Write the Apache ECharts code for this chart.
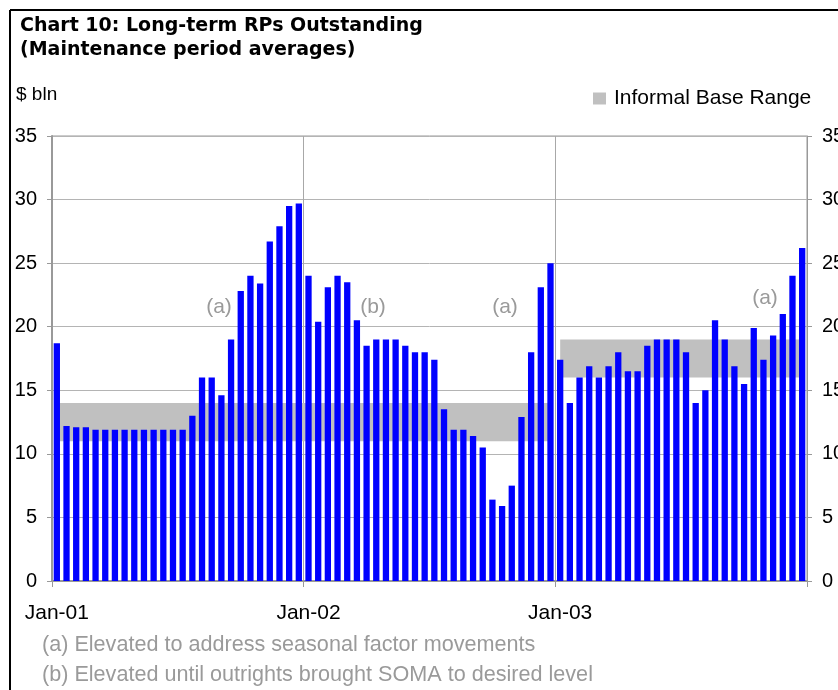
<!DOCTYPE html>
<html>
<head>
<meta charset="utf-8">
<script src="https://cdn.jsdelivr.net/npm/echarts@6/dist/echarts.min.js"></script>
<style>
  html, body { margin: 0; padding: 0; background: #fff; overflow: hidden; }
  #chart { width: 838px; height: 690px; }
</style>
</head>
<body>
<div id="chart"></div>
<script>
// Reserve maintenance periods (two weeks each), Jan 2001 - Dec 2003
const periods = [];
for (let i = 0; i < 78; i++) {
  const d = new Date(Date.UTC(2001, 0, 3 + 14 * i));
  periods.push(d.toISOString().slice(0, 10));
}

// Long-term RPs outstanding, $ bln (maintenance period averages)
const rpOutstanding = [
  18.7, 12.2, 12.1, 12.1, 11.9, 11.9, 11.9, 11.9, 11.9, 11.9, 11.9, 11.9, 11.9,
  11.9, 13.0, 16.0, 16.0, 14.6, 19.0, 22.8, 24.0, 23.4, 26.7, 27.9, 29.5, 29.7,
  24.0, 20.4, 23.1, 24.0, 23.5, 20.5, 18.5, 19.0, 19.0, 19.0, 18.5, 18.0, 18.0,
  17.4, 13.5, 11.9, 11.9, 11.4, 10.5, 6.4, 5.9, 7.5, 12.9, 18.0, 23.1, 25.0,
  17.4, 14.0, 16.0, 16.9, 16.0, 16.9, 18.0, 16.5, 16.5, 18.5, 19.0, 19.0, 19.0,
  18.0, 14.0, 15.0, 20.5, 19.0, 16.9, 15.5, 19.9, 17.4, 19.3, 21.0, 24.0, 26.2
];

// Informal base range: one segment per regime (first/last period index, low, high)
const rangeFirst = [0, 52];
const rangeLast = [51, 77];
const rangeLow = [11, 16];
const rangeHigh = [14, 19];

// Year ticks on the period axis
const yearTickIndex = [0, 26, 52];
const yearTickLabels = ['Jan-01', 'Jan-02', 'Jan-03'];

// Footnotes and annotation markers
const noteMarks = ['(a)', '(b)', '(a)', '(a)'];
const footnotes = [
  '(a) Elevated to address seasonal factor movements',
  '(b) Elevated until outrights brought SOMA to desired level'
];

const RANGE_NAME = 'Informal Base Range';
const FONT = '"Liberation Sans", Arial, sans-serif';
const GRID_GREY = '#b4b4b4';
const AXIS_GREY = '#999999';
const NOTE_GREY = '#9a9a9a';

// Stacked area pair (invisible base + visible width) for each range segment
const rangeSeries = [];
rangeFirst.forEach((first, s) => {
  const base = periods.map((_, i) => (i >= first && i <= rangeLast[s]) ? rangeLow[s] : null);
  const width = periods.map((_, i) => (i >= first && i <= rangeLast[s]) ? rangeHigh[s] - rangeLow[s] : null);
  rangeSeries.push({
    name: 'base' + s, type: 'line', stack: 'range' + s, data: base,
    symbol: 'none', silent: true, z: 1,
    lineStyle: { width: 0, opacity: 0 }, areaStyle: { opacity: 0 }
  });
  rangeSeries.push({
    name: RANGE_NAME, type: 'line', stack: 'range' + s, data: width,
    symbol: 'none', silent: true, z: 1,
    itemStyle: { color: '#c0c0c0' },
    lineStyle: { width: 0, opacity: 0 },
    areaStyle: { color: '#c0c0c0', opacity: 1 }
  });
});

const isYearTick = (idx) => yearTickIndex.indexOf(idx) >= 0;

// Annotation placements (pixel centres)
const notePos = [[219, 307], [373, 307], [505, 307], [765, 298]];

const graphics = [
  // outer frame edges
  { type: 'line', shape: { x1: 10, y1: 10, x2: 838, y2: 10 }, style: { stroke: '#000', lineWidth: 2 } },
  { type: 'line', shape: { x1: 10, y1: 10, x2: 10, y2: 690 }, style: { stroke: '#000', lineWidth: 2 } },
  // unit label
  { type: 'text', x: 16, y: 95, style: { text: '$ bln', font: '19px ' + FONT, fill: '#000', verticalAlign: 'middle' } }
];
noteMarks.forEach((t, i) => {
  graphics.push({ type: 'text', x: notePos[i][0], y: notePos[i][1], z: 10,
    style: { text: t, font: '21px ' + FONT, fill: NOTE_GREY, align: 'center', verticalAlign: 'middle' } });
});
footnotes.forEach((t, i) => {
  graphics.push({ type: 'text', x: 42, y: 645 + 30 * i,
    style: { text: t, font: '21.6px ' + FONT, fill: NOTE_GREY, verticalAlign: 'middle' } });
});

const chart = echarts.init(document.getElementById('chart'), null, { renderer: 'canvas' });
chart.setOption({
  animation: false,
  backgroundColor: '#fff',
  title: {
    text: 'Chart 10: Long-term RPs Outstanding\n(Maintenance period averages)',
    left: 15, top: 9,
    textStyle: { fontFamily: '"DejaVu Sans", sans-serif', fontWeight: 'bold', fontSize: 19, lineHeight: 24, color: '#000' }
  },
  legend: {
    data: [RANGE_NAME], left: 588, top: 83, icon: 'rect', itemWidth: 13, itemHeight: 12,
    selectedMode: false,
    textStyle: { fontFamily: FONT, fontSize: 21, color: '#000', padding: [0, 0, 0, 3] }
  },
  grid: {
    left: 52, right: 31, top: 136, bottom: 109,
    outerBoundsMode: 'none',
    show: true, borderColor: AXIS_GREY, borderWidth: 1
  },
  xAxis: {
    type: 'category', data: periods, boundaryGap: true,
    axisLine: { lineStyle: { color: AXIS_GREY, width: 2 } },
    axisTick: { show: true, interval: isYearTick, length: 6, lineStyle: { color: AXIS_GREY } },
    axisLabel: {
      interval: isYearTick, margin: 22, fontFamily: FONT, fontSize: 21, color: '#000',
      formatter: (v, idx) => yearTickLabels[yearTickIndex.indexOf(idx)] || ''
    },
    splitLine: { show: true, interval: isYearTick, lineStyle: { color: '#a8a8a8', width: 1 } }
  },
  yAxis: [
    {
      type: 'value', min: 0, max: 35, interval: 5, position: 'left',
      axisLine: { show: true, lineStyle: { color: AXIS_GREY, width: 2 } },
      axisTick: { show: true, length: 5, lineStyle: { color: AXIS_GREY } },
      axisLabel: { margin: 15, fontFamily: FONT, fontSize: 20, color: '#000' },
      splitLine: { lineStyle: { color: GRID_GREY, width: 1 } }
    },
    {
      type: 'value', min: 0, max: 35, interval: 5, position: 'right',
      axisLine: { show: true, lineStyle: { color: AXIS_GREY, width: 1 } },
      axisTick: { show: true, length: 5, lineStyle: { color: AXIS_GREY } },
      axisLabel: { margin: 15, fontFamily: FONT, fontSize: 20, color: '#000' },
      splitLine: { show: false }
    }
  ],
  series: rangeSeries.concat([{
    name: 'Long-term RPs', type: 'bar', data: rpOutstanding, barWidth: '65%', z: 3,
    itemStyle: { color: '#0000ff' }
  }]),
  graphic: graphics
});
</script>
</body>
</html>
